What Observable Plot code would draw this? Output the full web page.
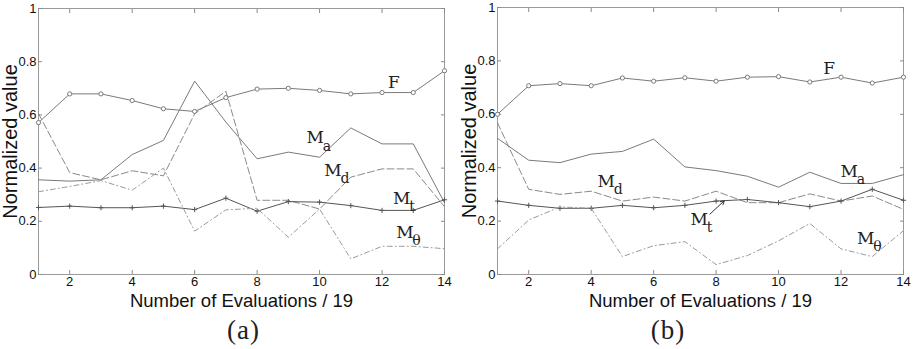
<!DOCTYPE html>
<html>
<head>
<meta charset="utf-8">
<script src="https://cdn.jsdelivr.net/npm/d3@7"></script>
<script src="https://cdn.jsdelivr.net/npm/@observablehq/plot@0.6"></script>
<style>
  html, body { margin: 0; padding: 0; background: #fff; }
  #row { display: flex; flex-direction: row; width: 919px; }
  .cap { font-family: "Liberation Serif", serif; font-size: 27px; letter-spacing: 1px; color: #222; height: 37px; line-height: 37px; text-align: center; }
</style>
</head>
<body>
<div id="row">
  <div id="pa"></div>
  <div id="pb"></div>
</div>
<script>
// ---- data ----
const evals = [1, 2, 3, 4, 5, 6, 7, 8, 9, 10, 11, 12, 13, 14];
const xTicks = [2, 4, 6, 8, 10, 12, 14];
const yTicks = [0, 0.2, 0.4, 0.6, 0.8, 1];
const seriesNames = ["F", "Ma", "Md", "Mt", "Mtheta"];

// panel (a)
const aF      = [0.571, 0.679, 0.679, 0.654, 0.623, 0.613, 0.665, 0.697, 0.700, 0.692, 0.679, 0.684, 0.684, 0.766];
const aMa     = [0.356, 0.351, 0.356, 0.451, 0.504, 0.727, 0.573, 0.435, 0.460, 0.441, 0.551, 0.491, 0.491, 0.270];
const aMd     = [0.605, 0.383, 0.356, 0.390, 0.371, 0.604, 0.689, 0.279, 0.279, 0.246, 0.366, 0.397, 0.397, 0.255];
const aMt     = [0.252, 0.257, 0.251, 0.251, 0.257, 0.244, 0.287, 0.238, 0.274, 0.272, 0.259, 0.241, 0.241, 0.281];
const aMtheta = [0.311, 0.331, 0.353, 0.317, 0.400, 0.163, 0.243, 0.249, 0.140, 0.246, 0.059, 0.106, 0.106, 0.097];

// panel (b)
const bF      = [0.600, 0.707, 0.715, 0.707, 0.736, 0.724, 0.737, 0.724, 0.739, 0.741, 0.721, 0.739, 0.717, 0.739];
const bMa     = [0.510, 0.428, 0.419, 0.451, 0.461, 0.507, 0.403, 0.389, 0.368, 0.327, 0.383, 0.341, 0.341, 0.374];
const bMd     = [0.568, 0.319, 0.300, 0.312, 0.275, 0.290, 0.275, 0.312, 0.269, 0.269, 0.302, 0.275, 0.294, 0.244];
const bMt     = [0.275, 0.259, 0.248, 0.248, 0.259, 0.250, 0.259, 0.275, 0.281, 0.269, 0.254, 0.275, 0.319, 0.278];
const bMtheta = [0.096, 0.204, 0.253, 0.248, 0.067, 0.108, 0.123, 0.037, 0.071, 0.126, 0.191, 0.096, 0.067, 0.164];

// curve labels (main letter, subscript, position in data space)
const aLabels = [
  {main: "F", sub: "",  x: 12.38, y: 0.723},
  {main: "M", sub: "a", x: 9.86,  y: 0.513},
  {main: "M", sub: "d", x: 10.43, y: 0.390},
  {main: "M", sub: "t", x: 12.63, y: 0.285},
  {main: "M", sub: "θ", x: 12.73, y: 0.157}
];
const bLabels = [
  {main: "F", sub: "",  x: 11.62, y: 0.773},
  {main: "M", sub: "a", x: 12.26, y: 0.387},
  {main: "M", sub: "d", x: 4.48,  y: 0.349},
  {main: "M", sub: "t", x: 7.46,  y: 0.207},
  {main: "M", sub: "θ", x: 12.79, y: 0.133}
];
const aArrows = [];
const bArrows = [{x1: 7.80, y1: 0.226, x2: 8.26, y2: 0.276}];

const xLabel = "Number of Evaluations / 19";
const yLabel = "Normalized value";

// ---- styles ----
const styles = {
  F:      {stroke: "#7a7a7a", dash: null,        marker: "circle"},
  Ma:     {stroke: "#7a7a7a", dash: null,        marker: null},
  Md:     {stroke: "#8a8a8a", dash: "7,3",       marker: null},
  Mt:     {stroke: "#555555", dash: null,        marker: "plus"},
  Mtheta: {stroke: "#9a9a9a", dash: "5,3,1,3",   marker: null}
};

function panel(values, labels, arrows, width, marginLeft, marginRight, marginTop) {
  const height = 312;
  const marks = [];
  const tickStroke = "#8a8a8a";
  const sans = "Liberation Sans, Arial, sans-serif";
  const serif = "DejaVu Serif, serif";
  marks.push(Plot.frame({stroke: "#9a9a9a"}));
  // inward ticks on all four sides
  marks.push(Plot.axisX({anchor: "bottom", ticks: xTicks, tickSize: -4, tickFormat: () => "", stroke: tickStroke, label: null}));
  marks.push(Plot.axisX({anchor: "top", ticks: xTicks, tickSize: -4, tickFormat: () => "", stroke: tickStroke, label: null}));
  marks.push(Plot.axisY({anchor: "left", ticks: yTicks, tickSize: -4, tickFormat: () => "", stroke: tickStroke, label: null}));
  marks.push(Plot.axisY({anchor: "right", ticks: yTicks, tickSize: -4, tickFormat: () => "", stroke: tickStroke, label: null}));
  // tick labels
  marks.push(Plot.axisX({anchor: "bottom", ticks: xTicks, tickSize: 0, tickPadding: 2, label: null, fill: "#111"}));
  marks.push(Plot.axisY({anchor: "left", ticks: yTicks, tickSize: 0, tickPadding: 2, label: null, fill: "#111",
    tickFormat: d => String(d)}));
  // axis titles
  marks.push(Plot.text([xLabel], {frameAnchor: "bottom", lineAnchor: "middle", textAnchor: "middle", dy: 27, fontSize: 18.5, fontFamily: sans, fill: "#111"}));
  marks.push(Plot.text([yLabel], {frameAnchor: "left", lineAnchor: "middle", textAnchor: "middle", rotate: -90, dx: -marginLeft + 10, fontSize: 20, fontFamily: sans, fill: "#111"}));

  seriesNames.forEach(name => {
    const st = styles[name];
    const rows = evals.map((x, i) => ({x, y: values[name][i]}));
    marks.push(Plot.line(rows, {x: "x", y: "y", stroke: st.stroke, strokeWidth: 1, strokeDasharray: st.dash}));
    if (st.marker === "circle") {
      marks.push(Plot.dot(rows, {x: "x", y: "y", r: 2.1, stroke: st.stroke, fill: "white", strokeWidth: 1}));
    } else if (st.marker === "plus") {
      marks.push(Plot.dot(rows, {x: "x", y: "y", r: 1.8, symbol: "plus", stroke: st.stroke, strokeWidth: 1}));
    }
  });

  marks.push(Plot.arrow(arrows, {x1: "x1", y1: "y1", x2: "x2", y2: "y2", stroke: "#333", strokeWidth: 1, headLength: 6}));
  marks.push(Plot.text(labels, {x: "x", y: "y", text: "main", fontSize: 17, fontFamily: serif, fill: "#222"}));
  marks.push(Plot.text(labels, {x: "x", y: "y", text: "sub", dx: 7.5, dy: 8, textAnchor: "start", fontSize: 14, fontFamily: serif, fill: "#222"}));

  return Plot.plot({
    width, height,
    marginLeft, marginRight, marginTop, marginBottom: height - 274,
    style: {fontSize: "13px", fontFamily: sans, background: "white", overflow: "visible"},
    x: {domain: [1, 14], label: null},
    y: {domain: [0, 1], label: null},
    marks
  });
}

const pa = panel({F: aF, Ma: aMa, Md: aMd, Mt: aMt, Mtheta: aMtheta}, aLabels, aArrows, 459, 38, 15, 8);
const pb = panel({F: bF, Ma: bMa, Md: bMd, Mt: bMt, Mtheta: bMtheta}, bLabels, bArrows, 460, 38, 16, 7);

const da = document.getElementById("pa");
da.appendChild(pa);
const ca = document.createElement("div");
ca.className = "cap"; ca.style.width = "459px"; ca.style.paddingLeft = "28px"; ca.style.boxSizing = "border-box";
ca.textContent = "(a)";
da.appendChild(ca);

const db = document.getElementById("pb");
db.appendChild(pb);
const cb = document.createElement("div");
cb.className = "cap"; cb.style.width = "460px"; cb.style.paddingRight = "42px"; cb.style.boxSizing = "border-box";
cb.textContent = "(b)";
db.appendChild(cb);
</script>
</body>
</html>
